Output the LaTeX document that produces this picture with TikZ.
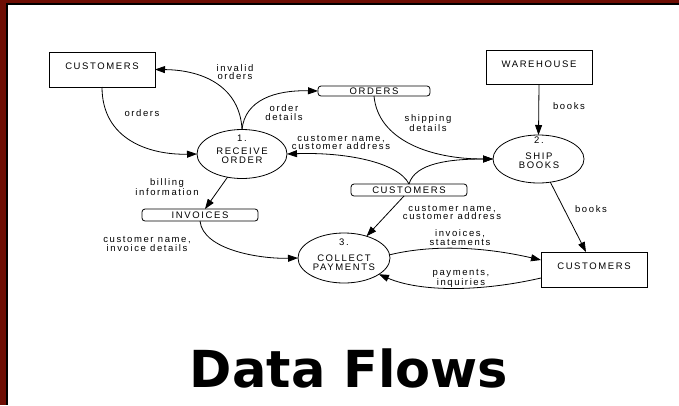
\documentclass[tikz,border=0pt]{standalone}
\usepackage{fontspec}
\usetikzlibrary{arrows.meta,shapes.geometric,calc}
\newfontfamily\dfdfont[LetterSpace=17]{Liberation Sans}
\newfontfamily\titlefont{DejaVu Sans}
\definecolor{framered}{RGB}{110,14,4}

\begin{document}
\begin{tikzpicture}[x=1pt,y=-1pt,
  every node/.style={inner sep=0pt, outer sep=0pt},
  lbl/.style={font=\dfdfont\fontsize{9.5}{8.7}\selectfont, align=center},
  entity/.style={draw, line width=0.9pt, minimum width=106pt, minimum height=35pt},
  process/.style={draw, ellipse, line width=0.8pt, minimum width=90pt, minimum height=49pt},
  store/.style={draw, rounded corners=3pt, line width=0.8pt, minimum width=116pt,
    minimum height=12pt, font=\dfdfont\fontsize{9.5}{8.7}\selectfont},
  flow/.style={line width=0.8pt, -{Triangle[length=10pt,width=7pt]}},
]
% page and frame
\useasboundingbox (0,0) rectangle (679,405);
\fill[white] (0,0) rectangle (679,405);
\fill[framered] (0,0) rectangle (6,405);
\fill[framered] (0,0) rectangle (679,3);
\fill[black] (6,3) rectangle (8,405);
\fill[black] (6,3) rectangle (679,5);

% external entities
\node[entity] (cust1) at (102,69.5) {};
\node[lbl] (cust1t) at (102,66) {CUSTOMERS};
\node[entity, minimum height=34pt] (ware) at (539,67) {};
\node[lbl] (waret) at (539,64) {WAREHOUSE};
\node[entity] (cust2) at (594,269.5) {};
\node[lbl] (cust2t) at (594,266) {CUSTOMERS};

% processes
\node[process] (p1) at (242,154) {};
\node[lbl] (p1n) at (242,138) {1.};
\node[lbl] (p1t) at (242,156) {RECEIVE\\ORDER};
\node[process, minimum width=91pt, minimum height=48pt] (p2) at (538.5,159) {};
\node[lbl] (p2n) at (539,140) {2.};
\node[lbl] (p2t) at (539,160.5) {SHIP\\BOOKS};
\node[process, minimum width=92pt, minimum height=50pt] (p3) at (344,258) {};
\node[lbl] (p3n) at (344,242) {3.};
\node[lbl] (p3t) at (344,262.5) {COLLECT\\PAYMENTS};

% data stores
\node[store, minimum width=112pt, minimum height=10pt] (ordst) at (374,91) {ORDERS};
\node[store] (custst) at (409,190) {CUSTOMERS};
\node[store] (inv) at (200,215) {INVOICES};

% connector end points on box sides
\coordinate (c2in) at ($(cust2.north west)+(45,0)$);
\coordinate (c2a) at ($(cust2.west)+(0,-9.5)$);
\coordinate (c2b) at ($(cust2.west)+(0,8.5)$);
\coordinate (invin) at ($(inv.north)+(5,0)$);
\coordinate (custout) at ($(custst.south)+(-5,0)$);

% data flows
\draw[flow] (p1.north) .. controls (240,88) and (205,70) .. (cust1.east);
\draw[flow] (p1.north) .. controls (245,100) and (275,90) .. (ordst.west);
\draw[flow] (cust1.south) .. controls (102,140) and (150,155) .. (p1.west);
\draw[flow] (custst.north) .. controls (398,162) and (345,152) .. (p1.east);
\draw[flow] (ordst.south) .. controls (378,140) and (430,159) .. (p2.west);
\draw[flow] (custst.north) .. controls (415,163) and (450,159) .. (p2.west);
\draw[flow] (ware.south) -- (p2.north);
\draw[flow] (p2) -- (c2in);
\draw[flow] (p1.238) -- (invin);
\draw[flow] (inv.south) .. controls (203,250) and (260,259) .. (p3.west);
\draw[flow] (custout) -- (p3.44);
\draw[flow] (p3.4) .. controls (430,245) and (480,246) .. (c2a);
\draw[flow] (c2b) .. controls (480,292) and (420,292) .. (p3.-25);

% flow labels
\node[lbl] (l1) at (235,72) {invalid\\orders};
\node[lbl] (l2) at (142,113) {orders};
\node[lbl] (l3) at (284,112.5) {order\\details};
\node[lbl] (l4) at (341,142.5) {customer name,\\customer address};
\node[lbl] (l5) at (428,123.5) {shipping\\details};
\node[lbl] (l6) at (569,106) {books};
\node[lbl] (l7) at (167,187) {billing\\information};
\node[lbl] (l8) at (147,244) {customer name,\\invoice details};
\node[lbl] (l9) at (452,212.5) {customer name,\\customer address};
\node[lbl] (l10) at (591,209) {books};
\node[lbl] (l11) at (460,237.5) {invoices,\\statements};
\node[lbl] (l12) at (461,278) {payments,\\inquiries};

% title
\node[font=\titlefont\bfseries\fontsize{51}{51}\selectfont, anchor=base] (title) at (349,387) {Data Flows};
\end{tikzpicture}
\end{document}
